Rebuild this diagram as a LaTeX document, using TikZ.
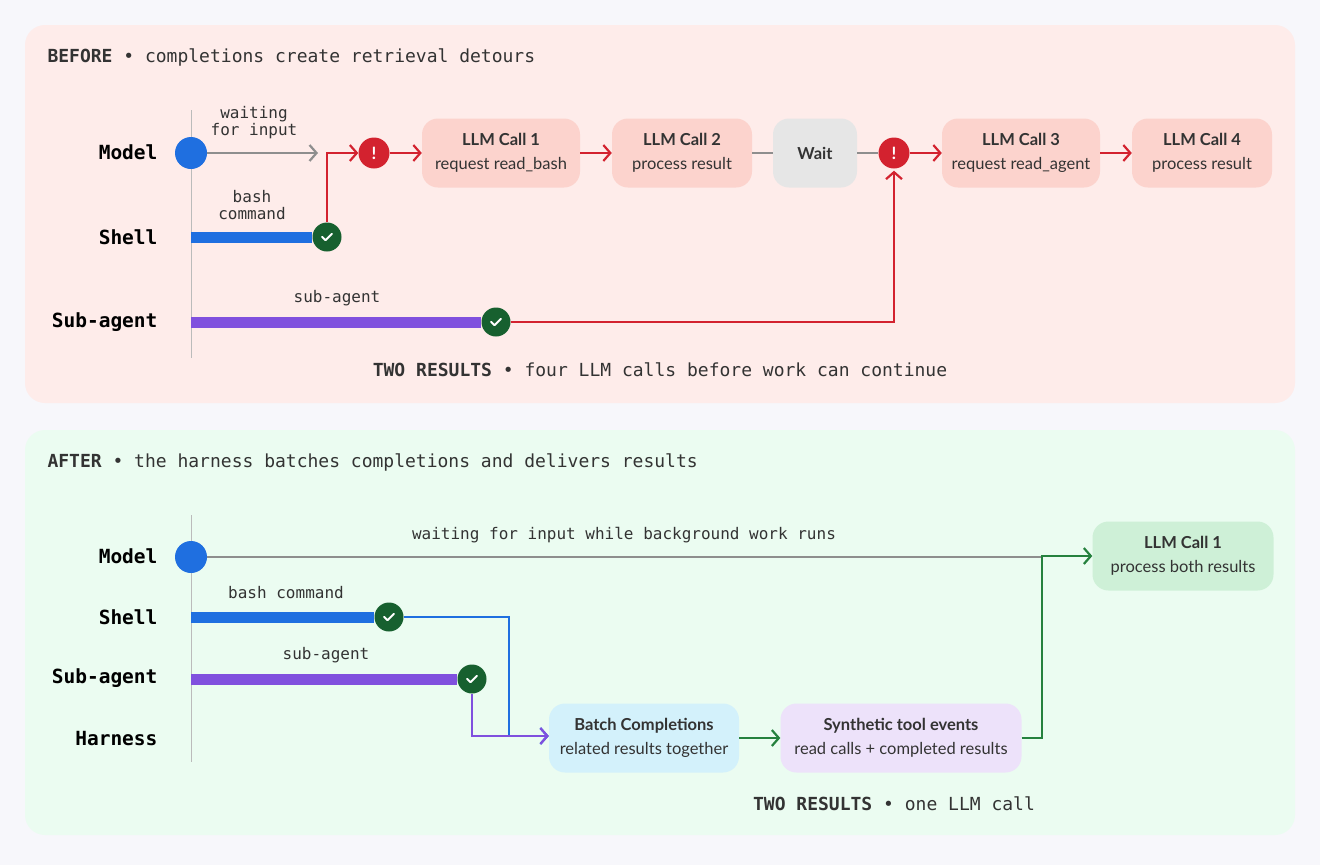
\documentclass[tikz,border=0pt]{standalone}
\usepackage{fontspec}
\setmainfont{Lato}
\newfontfamily\monof{DejaVu Sans Mono}
\usetikzlibrary{arrows.meta}
\definecolor{bgc}{HTML}{F7F7FB}
\definecolor{pinkp}{HTML}{FEECEA}
\definecolor{greenp}{HTML}{EBFCF1}
\definecolor{redc}{HTML}{D3222F}
\definecolor{chk}{HTML}{17602F}
\definecolor{bluec}{HTML}{1F6FE0}
\definecolor{purc}{HTML}{8050DE}
\definecolor{grnc}{HTML}{25813E}
\definecolor{grayc}{HTML}{8E8E8E}
\definecolor{txt}{HTML}{333333}
\definecolor{boxr}{HTML}{FCD3CD}
\definecolor{boxg}{HTML}{E6E6E6}
\definecolor{boxb}{HTML}{D3F1FB}
\definecolor{boxp}{HTML}{EDE2FA}
\definecolor{boxgr}{HTML}{CEF0D7}
\tikzset{
 x=1pt,y=-1pt,
 lbl/.style={font=\monof\bfseries\fontsize{19.5}{20}\selectfont,text=black,anchor=east},
 mono/.style={font=\monof\fontsize{16}{17}\selectfont,text=txt,align=center},
 ttl/.style={font=\monof\fontsize{18}{19}\selectfont,text=txt},
 box/.style={rounded corners=16pt,minimum height=69pt,align=center,text=txt,font=\fontsize{16.5}{24}\selectfont},
 chkn/.style={circle,fill=chk,minimum size=29pt,inner sep=0pt,text=white},
 bang/.style={circle,fill=redc,minimum size=31pt,inner sep=0pt,text=white,font=\bfseries\fontsize{17}{17}\selectfont},
 dot/.style={circle,fill=bluec,minimum size=32pt,inner sep=0pt},
 arr/.style={-{Straight Barb[length=7pt,width=16pt,line width=2.2pt]},line width=2.4pt},
 bar/.style={line width=11pt},
 axis/.style={draw=grayc!60,line width=1pt},
}
\newcommand{\tick}{\tikz[x=1pt,y=1pt]\draw[white,line width=1.8pt,line cap=round,line join=round](0,4)--(3.5,0.5)--(10,7);}
\begin{document}
\begin{tikzpicture}
\fill[bgc] (0,0) rectangle (1320,865);
\useasboundingbox (0,0) rectangle (1320,865);
\fill[pinkp,rounded corners=20pt] (25,25) rectangle (1295,403);
\fill[greenp,rounded corners=20pt] (25,430) rectangle (1295,835);

% ---------- BEFORE
\node[anchor=west,ttl] (t1) at (44,57) {\textbf{BEFORE} • completions create retrieval detours};
\draw[axis] (191,110) -- (191,358);
\node[lbl] (m1) at (161,152) {Model};
\node[lbl] (s1) at (161,237) {Shell};
\node[lbl] (a1) at (161,322) {Sub-agent};

\node[dot] (d1) at (191,153) {};
\coordinate (w1) at (318,153);
\draw[arr,grayc] (d1) -- (w1);
\node[mono] at (254,123) {waiting\\for input};

\node[chkn] (c1) at (327,237) {\tick};
\draw[bar,bluec] (191,237) -- (c1.west);
\node[mono] at (252,205) {bash\\command};

\node[bang] (b1) at (374,153) {!};
\draw[arr,redc] (c1.north) |- (b1.west);

\node[box,fill=boxr,minimum width=158pt] (L1) at (501,153) {\textbf{LLM Call 1}\\request read\_bash};
\node[box,fill=boxr,minimum width=140pt] (L2) at (682,153) {\textbf{LLM Call 2}\\process result};
\node[box,fill=boxg,minimum width=84pt] (W) at (815,153) {\textbf{Wait}};
\node[bang] (b2) at (894,153) {!};
\node[box,fill=boxr,minimum width=158pt] (L3) at (1021,153) {\textbf{LLM Call 3}\\request read\_agent};
\node[box,fill=boxr,minimum width=140pt] (L4) at (1202,153) {\textbf{LLM Call 4}\\process result};
\draw[arr,redc] (b1) -- (L1);
\draw[arr,redc] (L1) -- (L2);
\draw[grayc,line width=2.4pt] (L2) -- (W);
\draw[grayc,line width=2.4pt] (W) -- (b2);
\draw[arr,redc] (b2) -- (L3);
\draw[arr,redc] (L3) -- (L4);

\node[chkn] (c2) at (496,322) {\tick};
\draw[bar,purc] (191,322) -- (c2.west);
\node[mono] at (337,298) {sub-agent};
\draw[arr,redc] (c2.east) -| ([yshift=-2pt]b2.south);

\node[ttl] (f1) at (660,370) {\textbf{TWO RESULTS} • four LLM calls before work can continue};

% ---------- AFTER
\node[anchor=west,ttl] (t2) at (44,462) {\textbf{AFTER} • the harness batches completions and delivers results};
\draw[axis] (191,515) -- (191,762);
\node[lbl] (m2) at (161,556) {Model};
\node[lbl] (s2) at (161,617) {Shell};
\node[lbl] (a2) at (161,678) {Sub-agent};
\node[lbl] (h2) at (161,739) {Harness};

\node[box,fill=boxgr,minimum width=181pt] (N1) at (1183,556) {\textbf{LLM Call 1}\\process both results};
\node[box,fill=boxb,minimum width=190pt] (BC) at (644,738) {\textbf{Batch Completions}\\related results together};
\node[box,fill=boxp,minimum width=241pt] (SY) at (901,738) {\textbf{Synthetic tool events}\\read calls + completed results};

\node[dot] (d2) at (191,557) {};
\coordinate (j2) at (1043,557);
\draw[grayc,line width=2.4pt] (d2) -- (j2);
\node[mono] at (624,535) {waiting for input while background work runs};

\node[chkn] (c3) at (389,617) {\tick};
\draw[bar,bluec] (191,617) -- (c3.west);
\node[mono] at (286,593) {bash command};
\coordinate (k3) at (509,617);
\draw[arr,bluec] (c3.east) -- (k3) |- ([yshift=2pt]BC.west);

\node[chkn] (c4) at (472,679) {\tick};
\draw[bar,purc] (191,679) -- (c4.west);
\node[mono] at (326,655) {sub-agent};
\draw[arr,purc] (c4.south) |- ([yshift=2pt]BC.west);

\draw[arr,grnc] (BC) -- (SY);
\draw[arr,grnc] (SY.east) -- ++(20,0) |- (N1.west);

\node[ttl] (f2) at (894,804) {\textbf{TWO RESULTS} • one LLM call};
\end{tikzpicture}
\end{document}
